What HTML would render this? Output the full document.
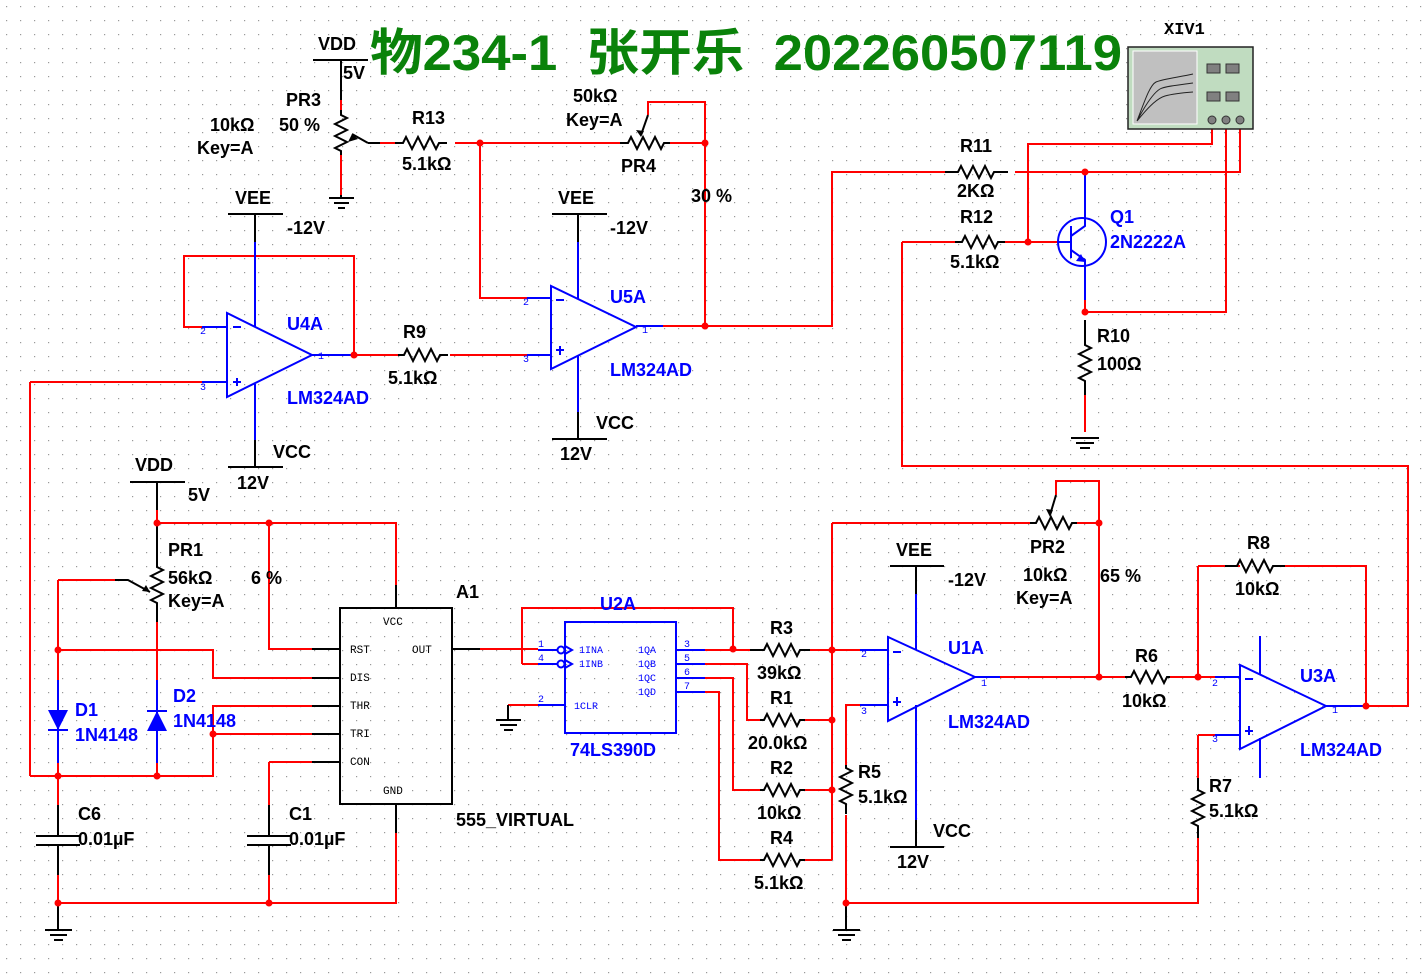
<!DOCTYPE html>
<html><head><meta charset="utf-8"><style>
html,body{margin:0;padding:0;background:#fff}
svg{display:block}
text{font-family:"Liberation Sans","Noto Sans CJK SC",sans-serif;font-weight:bold;font-size:18px}
.b{fill:#0000ff}
.m{font-family:"Liberation Mono",monospace;font-weight:normal;font-size:11px}
.pn{font-family:"Liberation Mono",monospace;font-weight:normal;font-size:10px;fill:#0000ff}
</style></head><body>
<svg width="1426" height="976" viewBox="0 0 1426 976" xmlns="http://www.w3.org/2000/svg">
<defs><pattern id="g" width="14" height="14" patternUnits="userSpaceOnUse"><rect x="6" y="6" width="1.2" height="1.2" fill="#999"/></pattern></defs>
<rect width="1426" height="976" fill="#fff"/>
<rect width="1426" height="976" fill="url(#g)"/>

<text x="370" y="70" fill="#0a820a" style="font-size:50px;white-space:pre" xml:space="preserve" textLength="752" lengthAdjust="spacingAndGlyphs">物234-1  张开乐  202260507119</text>

<!-- RED WIRES -->
<g stroke="#f00" stroke-width="2" fill="none">
<path d="M341 100V110 M341 155V195 M380 143H395 M455 143H620 M670 143H705V102H648V115 M480 143V298H527 M705 143V326 M663 326H832V172H945 M1015 172H1240V125"/>
<path d="M1028 242V144H1212V125 M1085 300V312H1226V125 M1085 395V432 M902 242H955 M1005 242H1058 M902 242V466H1408V706H1366"/>
<path d="M202 327H184V256H354V355 M312 355H398 M450 355H527 M30 382H202 M30 382V776"/>
<path d="M157 510V523H396V585 M269 523V649H312 M58 580H115 M58 580V680 M58 650H213V678H312 M157 622V680 M58 763V805 M157 763V776 M30 776H213V706H312 M213 734H312 M58 875V903H396V833 M269 762H312 M269 762V805 M269 875V903"/>
<path d="M480 649H538 M522 664V608H733V649 M538 664H522 M508 705H538"/>
<path d="M705 650H750 M810 650H860 M705 664H747V720H760 M805 720H832 M705 678H733V790H760 M805 790H832 M705 692H719V860H760 M805 860H832 M832 523V860 M832 523H1030 M1075 523H1099V481H1056V495 M1099 523V677 M1000 677H1125 M1170 677H1215 M860 705H846V765 M846 815V903H1198V835 M1198 566H1240 M1285 566H1366V706 M1198 566V677 M1198 735H1215 M1198 735V790"/>
</g>

<!-- BLACK -->
<g stroke="#000" stroke-width="2" fill="none">
<path d="M313 60H368 M341 60V100 M341 110v5 l6 3 l-12 6 l12 6 l-12 6 l12 6 l-12 6 l6 3 v4 M368 143H380 M368 143L352 134"/>
<path d="M329 198H354 M334 203H349 M338 208H345 M341 195V198"/>
<path d="M395 143h8 l3 -6 l6 12 l6 -12 l6 12 l6 -12 l6 12 l3 -6 h8"/>
<path d="M620 143h8 l3 -6 l6 12 l6 -12 l6 12 l6 -12 l6 12 l3 -6 h6"/>
<path d="M648 115L641 135"/>
<path d="M945 172h13 l3 -6 l6 12 l6 -12 l6 12 l6 -12 l6 12 l3 -6 h14"/>
<path d="M955 242h7 l3 -6 l6 12 l6 -12 l6 12 l6 -12 l6 12 l3 -6 h7"/>
<path d="M1085 320v25 l6 3 l-12 6 l12 6 l-12 6 l12 6 l-12 6 l6 3 v14"/>
<path d="M1071 438H1099 M1076 443H1094 M1080 448H1090"/>
<path d="M1212 112V125 M1226 112V125 M1240 112V125"/>
<path d="M398 355h6 l3 -6 l6 12 l6 -12 l6 12 l6 -12 l6 12 l3 -6 h8"/>
<path d="M228 214H283 M255 214V242 M228 467H283 M255 467V440 M552 214H607 M578 214V242 M552 439H607 M578 439V412"/>
<path d="M130 482H185 M157 482V510 M157 523V567 l6 3 l-12 6 l12 6 l-12 6 l12 6 l-12 6 l6 3 V622 M115 580H128 L150 592"/>
<path d="M58 805V836 M36 836H80 M36 845H80 M58 845V875 M58 903V930 M45 930H72 M50 935H67 M54 940H63"/>
<path d="M269 805V836 M247 836H291 M247 845H291 M269 845V875"/>
<path d="M312 649H340 M312 678H340 M312 706H340 M312 734H340 M312 762H340 M396 585V608 M396 804V833 M452 649H480"/>
<rect x="340" y="608" width="112" height="196"/>
<path d="M496 720H521 M500 725H517 M504 730H513 M508 705V720"/>
<path d="M750 650h14 l3 -6 l6 12 l6 -12 l6 12 l6 -12 l6 12 l3 -6 h10"/>
<path d="M760 720h4 l3 -6 l6 12 l6 -12 l6 12 l6 -12 l6 12 l3 -6 h5"/>
<path d="M760 790h4 l3 -6 l6 12 l6 -12 l6 12 l6 -12 l6 12 l3 -6 h5"/>
<path d="M760 860h4 l3 -6 l6 12 l6 -12 l6 12 l6 -12 l6 12 l3 -6 h5"/>
<path d="M846 765v3 l6 3 l-12 6 l12 6 l-12 6 l12 6 l-12 6 l6 3 v10"/>
<path d="M833 930H860 M838 935H855 M842 940H851 M846 903V930"/>
<path d="M890 566H944 M916 566V594 M890 847H944 M916 847V820"/>
<path d="M1030 523h6 l3 -6 l6 12 l6 -12 l6 12 l6 -12 l6 12 l3 -6 h5"/>
<path d="M1056 495L1050 515"/>
<path d="M1125 677h6 l3 -6 l6 12 l6 -12 l6 12 l6 -12 l6 12 l3 -6 h3"/>
<path d="M1225 566h12 l3 -6 l6 12 l6 -12 l6 12 l6 -12 l6 12 l3 -6 h12"/>
<path d="M1198 778v12 l6 3 l-12 6 l12 6 l-12 6 l12 6 l-12 6 l6 3 v12"/>
</g>
<g fill="#000">
<path d="M352 134l-4 8l10 -3z"/><path d="M641 137l-5 -7l8 1z"/><path d="M150 592l-8 -1l4 -6z"/><path d="M1050 517l-4 -8l7 1z"/>
</g>

<!-- BLUE -->
<g stroke="#00f" stroke-width="2" fill="none">
<path d="M227 313V397L312 355Z M202 327H227 M202 382H227 M312 355H354 M255 242V327 M255 384V440 M233 327h8 M237 378v8 M233 382h8"/>
<path d="M551 286V369L636 327Z M527 298H551 M527 355H551 M636 326H663 M578 242V299 M578 355V412 M556 300h8 M560 346v9 M556 350h8"/>
<path d="M888 637V721L975 677Z M860 650H888 M860 705H888 M975 677H1000 M916 594V650 M916 705V820 M893 652h8 M897 697v9 M893 702h8"/>
<path d="M1240 665V749L1326 706Z M1215 677H1240 M1215 735H1240 M1326 706H1366 M1260 636V675 M1260 738V778 M1245 679h8 M1249 726v9 M1245 731h8"/>
<rect x="565" y="622" width="111" height="111"/>
<path d="M538 650H558 M538 664H558 M538 705H565 M676 650H705 M676 664H705 M676 678H705 M676 692H705"/>
<circle cx="561" cy="650" r="3.5"/><circle cx="561" cy="664" r="3.5"/>
<path d="M565 646l7 4l-7 4 M565 660l7 4l-7 4"/>
<path d="M58 680V763 M157 680V763 M48 730H68 M147 711H167"/>
<circle cx="1082" cy="242" r="24"/>
<path d="M1071 226V258 M1058 242H1071 M1071 236L1085 226V172 M1071 250L1085 260V300"/>
</g>
<g fill="#00f"><path d="M48 710H68L58 730Z M147 731H167L157 711Z M1085 262l-9 -1l5 -7z"/></g>

<!-- dots -->
<g fill="#f00">
<circle cx="480" cy="143" r="3.5"/><circle cx="705" cy="143" r="3.5"/><circle cx="705" cy="326" r="3.5"/><circle cx="354" cy="355" r="3.5"/>
<circle cx="1085" cy="172" r="3.5"/><circle cx="1028" cy="242" r="3.5"/><circle cx="1085" cy="312" r="3.5"/>
<circle cx="157" cy="523" r="3.5"/><circle cx="269" cy="523" r="3.5"/><circle cx="58" cy="650" r="3.5"/><circle cx="58" cy="776" r="3.5"/><circle cx="157" cy="776" r="3.5"/><circle cx="213" cy="734" r="3.5"/><circle cx="58" cy="903" r="3.5"/><circle cx="269" cy="903" r="3.5"/>
<circle cx="733" cy="649" r="3.5"/><circle cx="832" cy="650" r="3.5"/><circle cx="832" cy="720" r="3.5"/><circle cx="832" cy="790" r="3.5"/>
<circle cx="1099" cy="523" r="3.5"/><circle cx="1099" cy="677" r="3.5"/><circle cx="1198" cy="677" r="3.5"/><circle cx="1366" cy="706" r="3.5"/><circle cx="846" cy="903" r="3.5"/>
</g>

<!-- XIV1 -->
<rect x="1128" y="47" width="125" height="82" fill="#c0dcc0" stroke="#222" stroke-width="1.5"/>
<rect x="1133" y="51" width="64" height="73" fill="#c0c0c0" stroke="#fff" stroke-width="1"/>
<path d="M1137 121C1145 100 1150 85 1156 82S1180 77 1193 74 M1137 121C1148 100 1155 92 1160 89S1180 85 1193 83 M1137 121C1150 105 1158 98 1165 96S1180 93 1193 92" stroke="#222" fill="none" stroke-width="1"/>
<g fill="#808080" stroke="#333" stroke-width="1"><rect x="1207" y="64" width="13" height="9"/><rect x="1226" y="64" width="13" height="9"/><rect x="1207" y="92" width="13" height="9"/><rect x="1226" y="92" width="13" height="9"/>
<circle cx="1212" cy="120" r="4"/><circle cx="1226" cy="120" r="4"/><circle cx="1240" cy="120" r="4"/></g>
<text x="1164" y="34" style="font-family:'Liberation Mono',monospace;font-size:17px">XIV1</text>

<!-- LABELS -->
<text x="318" y="50">VDD</text><text x="343" y="79">5V</text>
<text x="286" y="106">PR3</text><text x="210" y="131">10kΩ</text><text x="279" y="131">50 %</text><text x="197" y="154">Key=A</text>
<text x="412" y="124">R13</text><text x="402" y="170">5.1kΩ</text>
<text x="573" y="102">50kΩ</text><text x="566" y="126">Key=A</text><text x="621" y="172">PR4</text><text x="691" y="202">30 %</text>
<text x="235" y="204">VEE</text><text x="287" y="234">-12V</text><text x="273" y="458">VCC</text><text x="237" y="489">12V</text>
<text x="558" y="204">VEE</text><text x="610" y="234">-12V</text><text x="596" y="429">VCC</text><text x="560" y="460">12V</text>
<text class="b" x="287" y="330">U4A</text><text class="b" x="287" y="404">LM324AD</text>
<text class="b" x="610" y="303">U5A</text><text class="b" x="610" y="376">LM324AD</text>
<text x="403" y="338">R9</text><text x="388" y="384">5.1kΩ</text>
<text x="960" y="152">R11</text><text x="957" y="197">2KΩ</text><text x="960" y="223">R12</text><text x="950" y="268">5.1kΩ</text>
<text class="b" x="1110" y="223">Q1</text><text class="b" x="1110" y="248">2N2222A</text>
<text x="1097" y="342">R10</text><text x="1097" y="370">100Ω</text>
<text x="135" y="471">VDD</text><text x="188" y="501">5V</text>
<text x="168" y="556">PR1</text><text x="168" y="584">56kΩ</text><text x="251" y="584">6 %</text><text x="168" y="607">Key=A</text>
<text class="b" x="75" y="716">D1</text><text class="b" x="75" y="741">1N4148</text><text class="b" x="173" y="702">D2</text><text class="b" x="173" y="727">1N4148</text>
<text x="78" y="820">C6</text><text x="78" y="845">0.01µF</text><text x="289" y="820">C1</text><text x="289" y="845">0.01µF</text>
<text x="456" y="598">A1</text><text x="456" y="826">555_VIRTUAL</text>
<text class="m" x="383" y="625">VCC</text><text class="m" x="350" y="653">RST</text><text class="m" x="412" y="653">OUT</text><text class="m" x="350" y="681">DIS</text><text class="m" x="350" y="709">THR</text><text class="m" x="350" y="737">TRI</text><text class="m" x="350" y="765">CON</text><text class="m" x="383" y="794">GND</text>
<text class="b" x="600" y="610">U2A</text><text class="b" x="570" y="756">74LS390D</text>
<text class="pn" x="579" y="653">1INA</text><text class="pn" x="579" y="667">1INB</text><text class="pn" x="574" y="709">1CLR</text>
<text class="pn" x="638" y="653">1QA</text><text class="pn" x="638" y="667">1QB</text><text class="pn" x="638" y="681">1QC</text><text class="pn" x="638" y="695">1QD</text>
<text class="pn" x="538" y="647">1</text><text class="pn" x="538" y="661">4</text><text class="pn" x="538" y="702">2</text>
<text class="pn" x="684" y="647">3</text><text class="pn" x="684" y="661">5</text><text class="pn" x="684" y="675">6</text><text class="pn" x="684" y="689">7</text>
<text x="770" y="634">R3</text><text x="757" y="679">39kΩ</text><text x="770" y="704">R1</text><text x="748" y="749">20.0kΩ</text>
<text x="770" y="774">R2</text><text x="757" y="819">10kΩ</text><text x="770" y="844">R4</text><text x="754" y="889">5.1kΩ</text>
<text x="858" y="778">R5</text><text x="858" y="803">5.1kΩ</text>
<text x="896" y="556">VEE</text><text x="948" y="586">-12V</text><text x="933" y="837">VCC</text><text x="897" y="868">12V</text>
<text class="b" x="948" y="654">U1A</text><text class="b" x="948" y="728">LM324AD</text>
<text x="1030" y="553">PR2</text><text x="1023" y="581">10kΩ</text><text x="1016" y="604">Key=A</text><text x="1100" y="582">65 %</text>
<text x="1135" y="662">R6</text><text x="1122" y="707">10kΩ</text><text x="1247" y="549">R8</text><text x="1235" y="595">10kΩ</text>
<text class="b" x="1300" y="682">U3A</text><text class="b" x="1300" y="756">LM324AD</text>
<text x="1209" y="792">R7</text><text x="1209" y="817">5.1kΩ</text>
<text class="pn" x="200" y="334">2</text><text class="pn" x="200" y="390">3</text><text class="pn" x="318" y="359">1</text>
<text class="pn" x="523" y="305">2</text><text class="pn" x="523" y="362">3</text><text class="pn" x="642" y="333">1</text>
<text class="pn" x="861" y="657">2</text><text class="pn" x="861" y="714">3</text><text class="pn" x="981" y="686">1</text>
<text class="pn" x="1212" y="686">2</text><text class="pn" x="1212" y="742">3</text><text class="pn" x="1332" y="713">1</text>
</svg>
</body></html>
